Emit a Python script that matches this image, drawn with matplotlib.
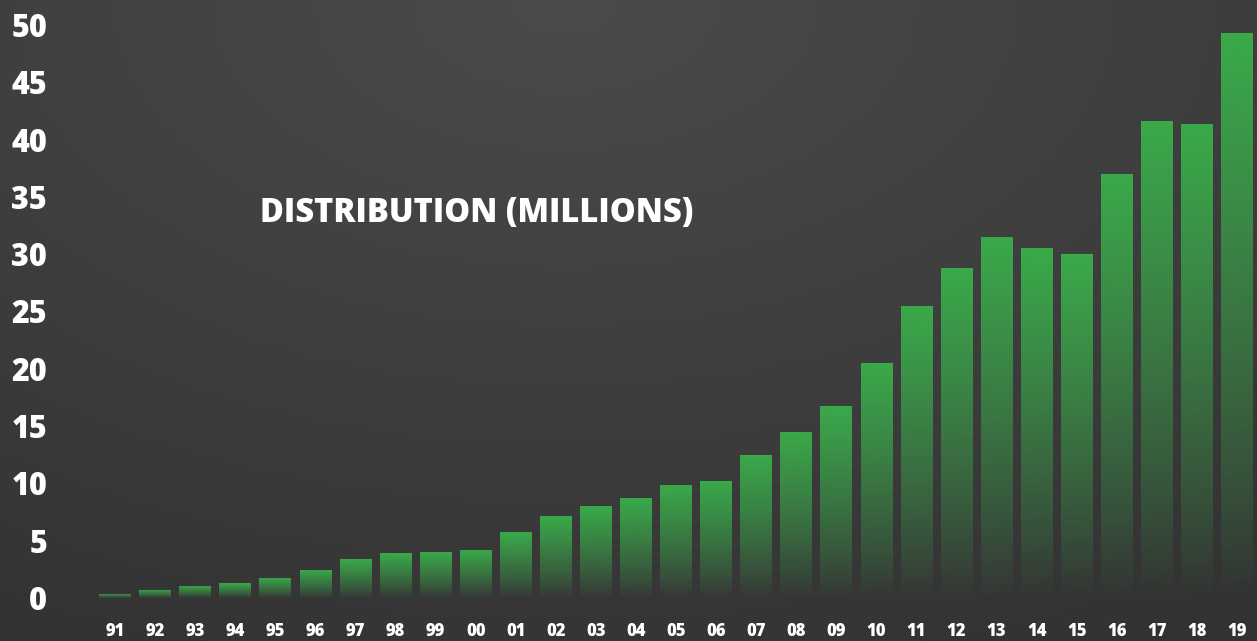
import matplotlib.pyplot as plt
import numpy as np

years = ["91", "92", "93", "94", "95", "96", "97", "98", "99", "00",
         "01", "02", "03", "04", "05", "06", "07", "08", "09", "10",
         "11", "12", "13", "14", "15", "16", "17", "18", "19"]
values = [0.35, 0.7, 1.05, 1.3, 1.75, 2.45, 3.4, 3.9, 4.0, 4.2,
          5.75, 7.15, 8.0, 8.7, 9.85, 10.2, 12.45, 14.5, 16.75, 20.5,
          25.5, 28.8, 31.5, 30.5, 30.0, 37.0, 41.6, 41.4, 49.3]
yticks = [0, 5, 10, 15, 20, 25, 30, 35, 40, 45, 50]

plt.rcParams['font.family'] = ['Open Sans', 'DejaVu Sans']

fig = plt.figure(figsize=(12.57, 6.41), dpi=100)

# background: soft radial gradient, lighter at the top centre
bg = fig.add_axes([0, 0, 1, 1], zorder=0)
gx, gy = np.meshgrid(np.linspace(0, 1, 400), np.linspace(0, 1, 200))
d = np.sqrt(((gx - 0.45) / 0.95) ** 2 + (gy / 1.1) ** 2)
shade = np.clip(75 - 24 * d, 50, 80) / 255
bg.imshow(np.dstack([shade, shade, shade]), aspect='auto', extent=[0, 1, 1, 0])
bg.axis('off')

ax = fig.add_axes([0, 43 / 641, 1, 598 / 641], zorder=1)
ax.patch.set_visible(False)
x = np.arange(len(years))
bars = ax.bar(x, values, width=0.79, color='none', edgecolor='none')

# green-to-transparent gradient inside each bar
green = np.array([58, 170, 74]) / 255
t = np.linspace(1, 0, 256).reshape(-1, 1)
grad = np.zeros((256, 1, 4))
grad[..., :3] = green
grad[..., 3] = t ** 0.9
for b in bars:
    x0, w, h = b.get_x(), b.get_width(), b.get_height()
    im = ax.imshow(grad, aspect='auto', extent=[x0, x0 + w, 0, h], zorder=2)
    im.set_clip_path(b)

ax.set_xlim(-2.87, 28.5)
ax.set_ylim(0, 52.18)
ax.set_xticks(x)
ax.set_xticklabels(years)
ax.set_yticks(yticks)
ax.set_yticklabels([str(v) for v in yticks])
ax.tick_params(axis='x', length=0, pad=18, labelsize=12, labelcolor='white')
ax.tick_params(axis='y', length=0, pad=-34, labelsize=22, labelcolor='white')
for lab in ax.get_xticklabels() + ax.get_yticklabels():
    lab.set_fontweight('extra bold')
for s in ax.spines.values():
    s.set_visible(False)

ax.text(3.62, 33.6, "DISTRIBUTION (MILLIONS)", color='white', fontsize=23.5,
        fontweight='extra bold', ha='left', va='center')

fig.savefig("out.png", dpi=100)
